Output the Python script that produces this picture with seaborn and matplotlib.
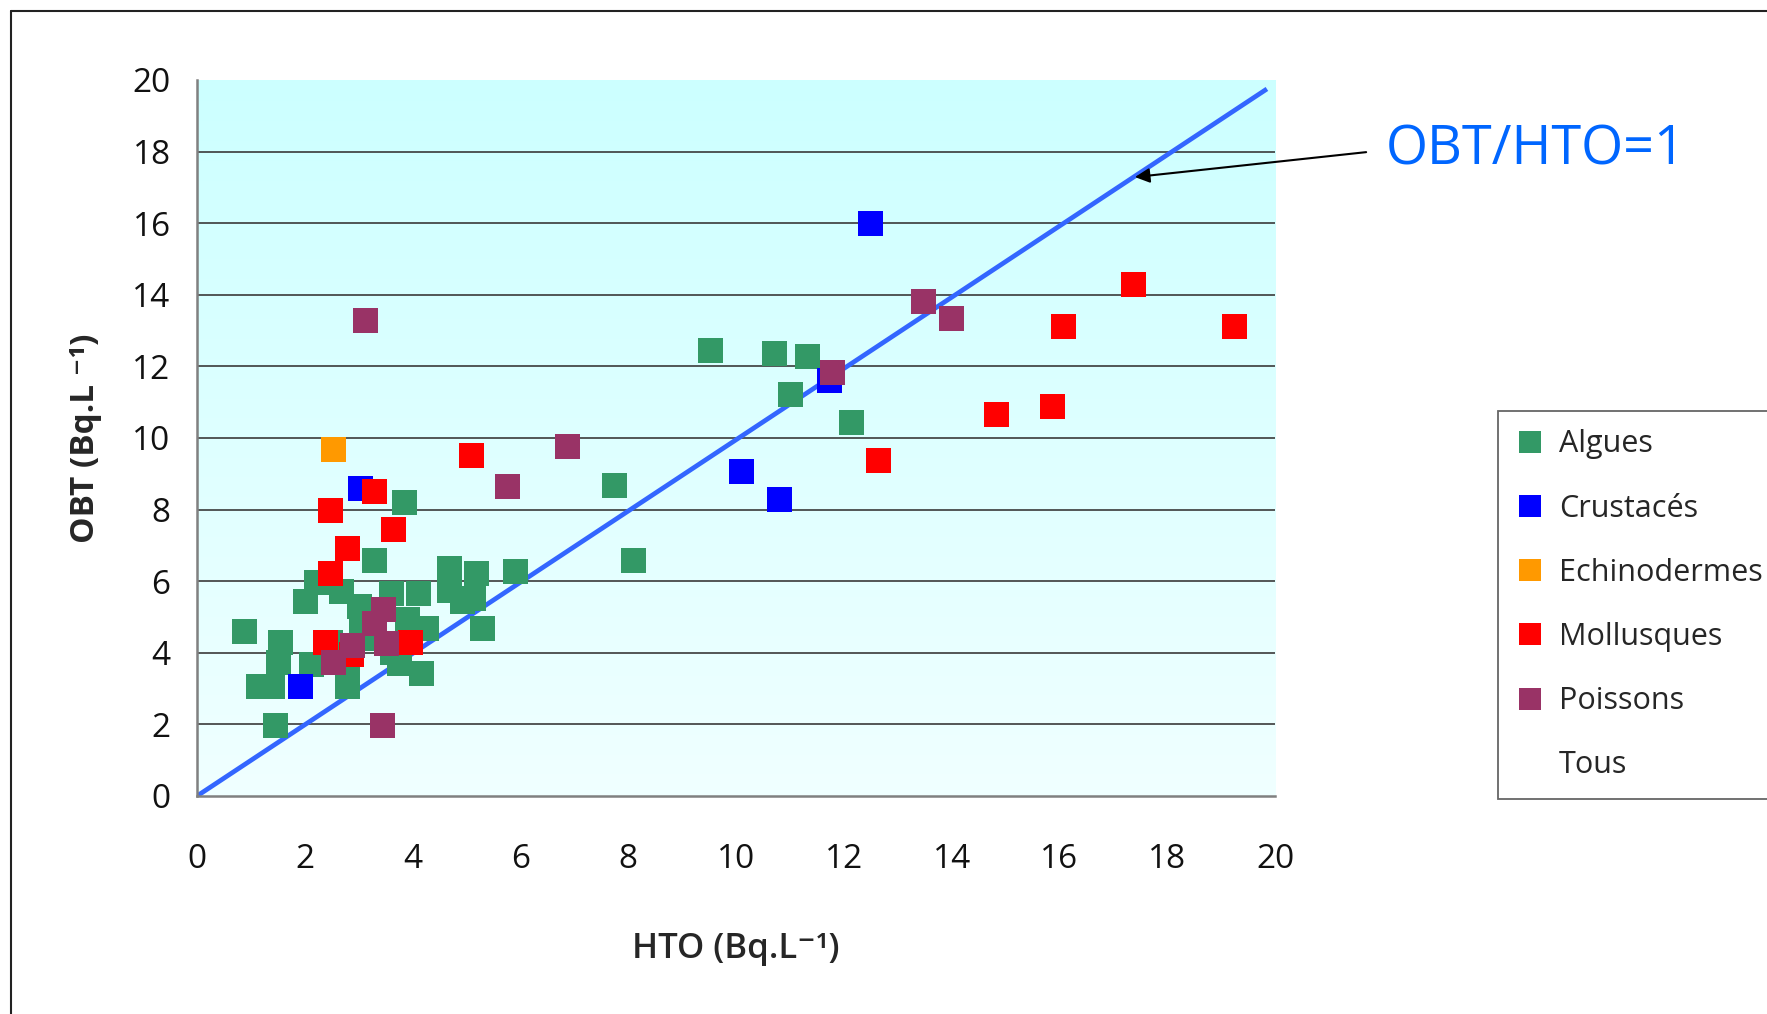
import numpy as np
import pandas as pd
import matplotlib
matplotlib.use("Agg")
import matplotlib.pyplot as plt
from matplotlib.lines import Line2D
from matplotlib.colors import LinearSegmentedColormap
import seaborn as sns

# ---------------- data ----------------
algues_x = [0.88, 1.55, 1.51, 1.14, 1.40, 1.46, 2.02, 2.22, 2.68, 2.48, 2.13, 2.80, 2.80,
            3.30, 3.85, 3.01, 3.05, 3.15, 3.61, 4.11, 3.91, 4.26, 4.69, 5.19, 4.69, 5.13,
            4.93, 5.30, 5.91, 3.62, 3.75, 4.17, 7.75, 8.10, 9.53, 10.72, 11.33, 11.01, 12.14]
algues_y = [4.59, 4.28, 3.74, 3.05, 3.05, 1.96, 5.43, 5.96, 5.72, 4.28, 3.67, 3.35, 3.05,
            6.57, 8.19, 5.29, 4.85, 4.40, 5.67, 5.67, 4.93, 4.68, 6.35, 6.21, 5.73, 5.52,
            5.43, 4.67, 6.27, 4.00, 3.70, 3.42, 8.67, 6.57, 12.44, 12.35, 12.27, 11.21, 10.43]

crust_x = [1.92, 3.04, 10.10, 10.81, 11.74, 12.50]
crust_y = [3.05, 8.58, 9.06, 8.28, 11.60, 15.99]

echino_x = [2.53]
echino_y = [9.67]

moll_x = [2.48, 3.30, 3.65, 2.79, 2.48, 2.38, 2.86, 3.96, 5.09, 12.65, 14.84, 15.88, 16.07, 17.37, 19.25]
moll_y = [7.98, 8.51, 7.44, 6.90, 6.21, 4.28, 3.96, 4.28, 9.50, 9.37, 10.67, 10.89, 13.12, 14.29, 13.12]

poiss_x = [3.13, 3.46, 3.30, 3.51, 2.89, 2.53, 3.45, 5.76, 6.88, 11.79, 13.48, 14.00]
poiss_y = [13.28, 5.21, 4.82, 4.26, 4.21, 3.74, 1.97, 8.65, 9.75, 11.83, 13.82, 13.34]

groups = ["Algues", "Crustacés", "Echinodermes", "Mollusques", "Poissons"]
colors = ["#339966", "#0000FF", "#FF9900", "#FF0000", "#993366"]

ratio_line_x = [0, 19.85]
ratio_line_y = [0, 19.75]

x_ticks = list(range(0, 21, 2))
y_ticks = list(range(0, 21, 2))

# ---------------- build frame ----------------
frames = []
for g, xs, ys in zip(groups, [algues_x, crust_x, echino_x, moll_x, poiss_x],
                     [algues_y, crust_y, echino_y, moll_y, poiss_y]):
    frames.append(pd.DataFrame({"HTO": xs, "OBT": ys, "Groupe": g}))
df = pd.concat(frames, ignore_index=True)

sns.set_style("white")
plt.rcParams["font.family"] = ["Open Sans", "DejaVu Sans"]

W, H = 1767, 1014
fig = plt.figure(figsize=(W / 100, H / 100), dpi=100)
ax = fig.add_axes([197 / W, 1 - 796 / H, (1275 - 197) / W, (796 - 80) / H])

# gradient background
grad = np.linspace(0, 1, 256).reshape(-1, 1)
cmap = LinearSegmentedColormap.from_list("bg", ["#CCFFFF", "#F0FFFF"])
ax.imshow(grad, extent=[0, 1, 0, 1], transform=ax.transAxes, aspect="auto",
          cmap=cmap, zorder=0, origin="upper")

for yv in y_ticks[1:-1]:
    ax.axhline(yv, color="#3a3a3a", lw=1.2, zorder=1)

ax.plot(ratio_line_x, ratio_line_y, color="#3366FF", lw=3.4, zorder=2, solid_capstyle="butt")

sns.scatterplot(data=df, x="HTO", y="OBT", hue="Groupe", hue_order=groups,
                palette=dict(zip(groups, colors)), marker="s", s=324, linewidth=0,
                legend=False, ax=ax, zorder=3)

ax.set_xlim(0, 20)
ax.set_ylim(0, 20)
ax.set_xticks(x_ticks)
ax.set_yticks(y_ticks)
ax.set_xticklabels([str(v) for v in x_ticks])
ax.set_yticklabels([str(v) for v in y_ticks])
ax.tick_params(axis="both", direction="out", length=8, width=1.3, color="#808080",
               labelsize=24, labelcolor="#111111")
ax.tick_params(axis="x", pad=26)
ax.tick_params(axis="y", pad=11)
ax.grid(False)
for s in ["top", "right"]:
    ax.spines[s].set_visible(False)
for s in ["left", "bottom"]:
    ax.spines[s].set_color("#808080")
    ax.spines[s].set_linewidth(1.8)

ax.set_xlabel("HTO (Bq.L\u207b\u00b9)", fontsize=25, labelpad=40, fontweight="semibold",
              family=["Open Sans", "DejaVu Sans"])
ax.set_ylabel("OBT (Bq.L \u207b\u00b9)", fontsize=24, labelpad=22, fontweight="bold",
              family=["Open Sans", "DejaVu Sans"])

ax.annotate("OBT/HTO=1", xy=(17.35, 17.28), xycoords="data",
            xytext=(1386, H - 150), textcoords="figure pixels",
            fontsize=39, color="#0066FF", ha="left", va="center",
            arrowprops=dict(arrowstyle="-|>", color="black", lw=1.5, mutation_scale=22,
                            relpos=(0, 0.5), shrinkA=12, shrinkB=2),
            annotation_clip=False)

handles = [Line2D([], [], marker="s", linestyle="none", markersize=16,
                  markerfacecolor=c, markeredgewidth=0) for c in colors]
handles.append(Line2D([], [], linestyle="none"))
labels = groups + ["Tous"]
leg = fig.legend(handles, labels, loc="upper left",
                 bbox_to_anchor=(1498 / W, 1 - 411 / H), frameon=True, fancybox=False,
                 edgecolor="#404040", fontsize=22, labelspacing=1.12, handlelength=0.9,
                 handletextpad=0.5, borderpad=0.6, borderaxespad=0)
leg.get_frame().set_linewidth(1.3)

# figure frame (left and top edges visible)
fig.add_artist(Line2D([11 / W, 11 / W], [0, 1 - 11 / H], color="#222222", lw=1.5))
fig.add_artist(Line2D([11 / W, 1], [1 - 11 / H, 1 - 11 / H], color="#222222", lw=1.5))

fig.savefig("out.png", dpi=100)
